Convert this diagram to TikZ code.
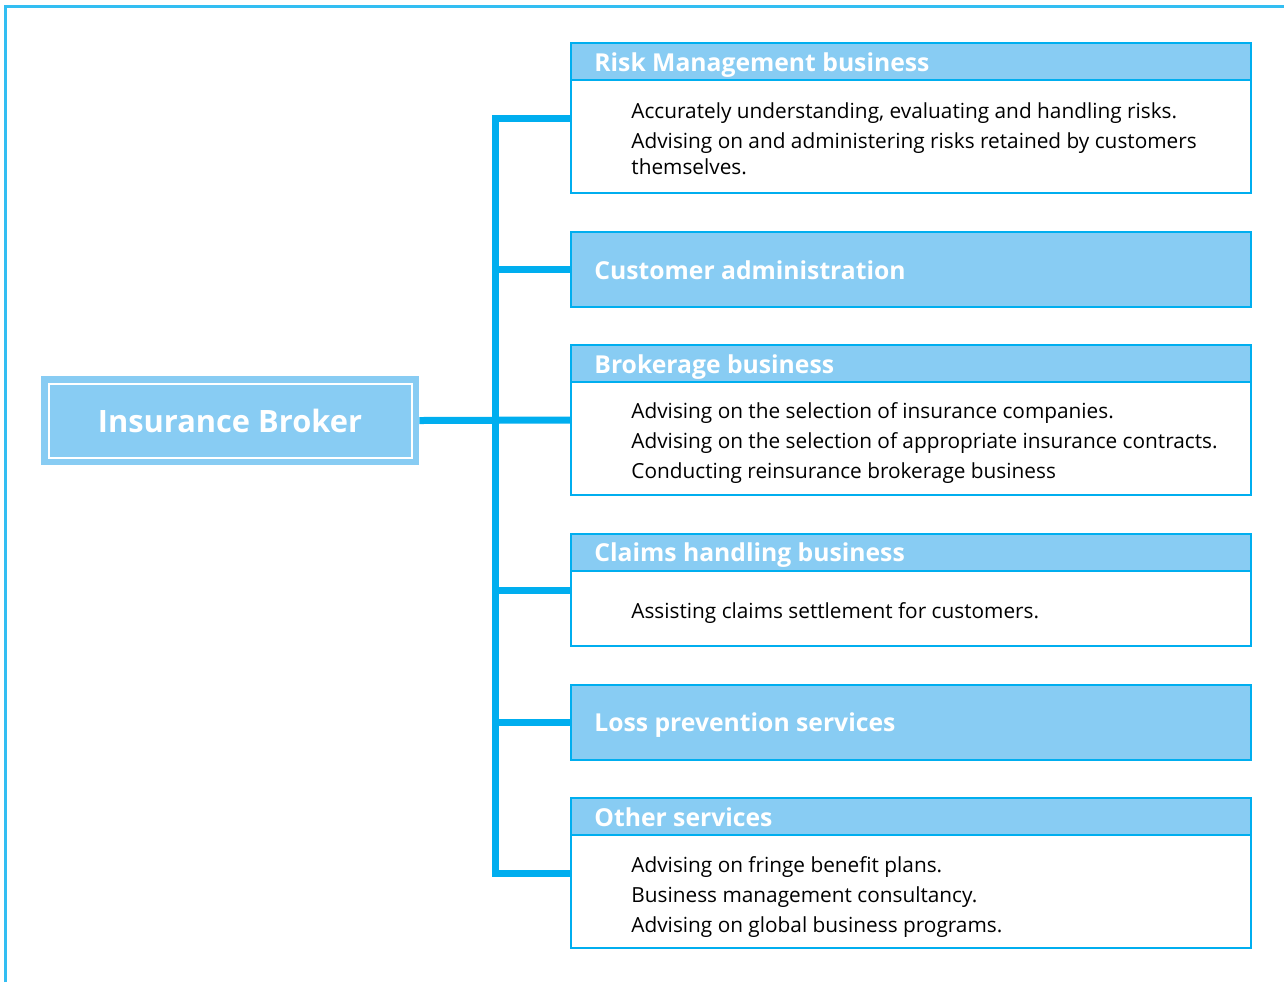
\documentclass[tikz,border=0pt]{standalone}
\usepackage{fontspec}
\setmainfont{Open Sans}
\definecolor{brokerblue}{HTML}{00AEEF}
\definecolor{headblue}{HTML}{88CCF3}
\tikzset{
  panel/.style={draw=brokerblue,line width=0.8pt,minimum width=340pt,inner sep=0pt},
  headbar/.style={panel,fill=headblue,minimum height=18.5pt},
  title/.style={anchor=base west,text=white,font=\fontsize{12.35}{15}\selectfont\bfseries,inner sep=0pt},
  body/.style={anchor=base west,font=\fontsize{10.4}{13}\selectfont,inner sep=0pt},
  link/.style={draw=brokerblue,line width=3.5pt}
}
\begin{document}
\begin{tikzpicture}[x=0.5pt,y=-0.5pt]
  \useasboundingbox (0,0) rectangle (1284,982);
  % frame
  \draw[brokerblue!80,line width=1.5pt] (5,982) -- (5,6) -- (1284,6);

  % left box
  \node[fill=headblue,minimum width=189pt,minimum height=44.5pt,inner sep=0pt] (broker) at (230,420.5) {};
  \node[draw=white,line width=1pt,minimum width=181.5pt,minimum height=37pt,inner sep=0pt,
        text=white,font=\fontsize{15.4}{18}\selectfont\bfseries] (brokerlabel) at (broker) {Insurance Broker};

  % right column
  \coordinate (spine) at (495,420);
  \node[panel,minimum height=75pt] (risk) at (911,118) {};
  \node[headbar,anchor=north] (riskhead) at (risk.north) {};
  \node[title] at (594,71) {Risk Management business};
  \node[body] at (631,118) {Accurately understanding, evaluating and handling risks.};
  \node[body] at (631,148) {Advising on and administering risks retained by customers};
  \node[body] at (631,174) {themselves.};

  \node[panel,fill=headblue,minimum height=37.5pt] (cust) at (911,269.5) {};
  \node[title] at (594,279) {Customer administration};

  \node[panel,minimum height=75pt] (broke) at (911,420) {};
  \node[headbar,anchor=north] (brokehead) at (broke.north) {};
  \node[title] at (594,373) {Brokerage business};
  \node[body] at (631,418) {Advising on the selection of insurance companies.};
  \node[body] at (631,448) {Advising on the selection of appropriate insurance contracts.};
  \node[body] at (631,478) {Conducting reinsurance brokerage business};

  \node[panel,minimum height=56pt] (claims) at (911,590) {};
  \node[headbar,anchor=north] (claimshead) at (claims.north) {};
  \node[title] at (594,561) {Claims handling business};
  \node[body] at (631,618) {Assisting claims settlement for customers.};

  \node[panel,fill=headblue,minimum height=37.5pt] (loss) at (911,722.5) {};
  \node[title] at (594,731) {Loss prevention services};

  \node[panel,minimum height=75pt] (other) at (911,873) {};
  \node[headbar,anchor=north] (otherhead) at (other.north) {};
  \node[title] at (594,826) {Other services};
  \node[body] at (631,872) {Advising on fringe benefit plans.};
  \node[body] at (631,902) {Business management consultancy.};
  \node[body] at (631,932) {Advising on global business programs.};

  % connectors
  \draw[link] (risk.west) -- (risk.west -| spine) -- (other.west -| spine) -- (other.west);
  \foreach \b in {cust,claims,loss}
    \draw[link] (\b.west -| spine) -- (\b.west);
  \draw[link] (broker.east) -- (broke.west);
\end{tikzpicture}
\end{document}
